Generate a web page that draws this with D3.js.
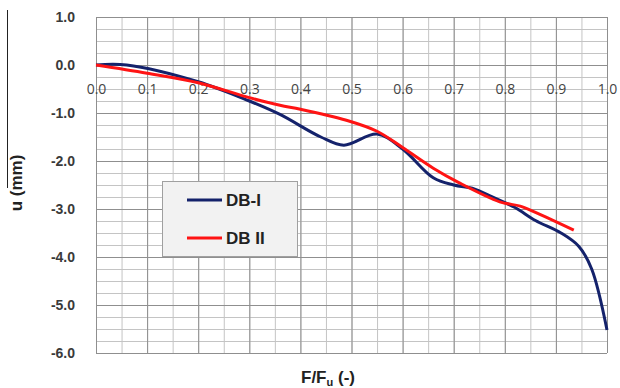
<!DOCTYPE html>
<html><head><meta charset="utf-8">
<script src="https://cdn.jsdelivr.net/npm/d3@7"></script>
<style>body{margin:0;background:#fff}svg{display:block}</style>
</head><body><svg id="c" width="620" height="388"></svg>
<script>
const xTicks = [0,0.1,0.2,0.3,0.4,0.5,0.6,0.7,0.8,0.9,1.0];
const yTicks = [1,0,-1,-2,-3,-4,-5,-6];
const seriesNames = ["DB-I","DB II"];
const dbI_x = [0,0.06,0.2,0.3,0.36,0.44,0.485,0.55,0.6,0.66,0.7,0.74,0.77,0.82,0.86,0.91,0.945,0.97,1.0];
const dbI_u = [0,0.0,-0.35,-0.75,-1.03,-1.5,-1.67,-1.44,-1.75,-2.35,-2.5,-2.58,-2.72,-2.97,-3.24,-3.5,-3.78,-4.25,-5.52];
const dbII_x = [0,0.1,0.2,0.3,0.36,0.4,0.49,0.55,0.6,0.66,0.71,0.79,0.83,0.86,0.935];
const dbII_u = [0,-0.17,-0.37,-0.68,-0.84,-0.92,-1.15,-1.38,-1.72,-2.15,-2.45,-2.85,-2.94,-3.07,-3.44];

const svg = d3.select("#c");
const L=96,R=607,T=17,B=353;
const x = d3.scaleLinear().domain([0,1]).range([L,R]);
const y = d3.scaleLinear().domain([-6,1]).range([B,T]);
const fmt = d => d.toFixed(1);

// minor grid
const g = svg.append("g");
g.append("g").attr("transform",`translate(0,${B})`)
 .call(d3.axisBottom(x).tickValues(d3.range(0,1.0001,0.05)).tickSize(-(B-T)).tickFormat(""))
 .call(a=>{a.select(".domain").remove();a.selectAll("line").attr("stroke","#c4c4c4");});
g.append("g").attr("transform",`translate(${L},0)`)
 .call(d3.axisLeft(y).tickValues(d3.range(-6,1.0001,0.25)).tickSize(-(R-L)).tickFormat(""))
 .call(a=>{a.select(".domain").remove();a.selectAll("line").attr("stroke","#c4c4c4");});
// major grid
g.append("g").attr("transform",`translate(0,${B})`)
 .call(d3.axisBottom(x).tickValues(xTicks).tickSize(-(B-T)).tickFormat(""))
 .call(a=>{a.select(".domain").remove();a.selectAll("line").attr("stroke","#8f8f8f");});
g.append("g").attr("transform",`translate(${L},0)`)
 .call(d3.axisLeft(y).tickValues(yTicks).tickSize(-(R-L)).tickFormat(""))
 .call(a=>{a.select(".domain").remove();a.selectAll("line").attr("stroke","#8f8f8f");});

// y tick labels
svg.append("g").attr("transform",`translate(${L},0)`)
 .call(d3.axisLeft(y).tickValues(yTicks).tickSize(0).tickPadding(21).tickFormat(fmt))
 .call(a=>{a.select(".domain").remove();a.selectAll("text").attr("font-family","Liberation Sans, Arial, sans-serif").attr("font-size",14).attr("font-weight","bold").attr("fill","#3a3a3a");});
// x tick labels at y=0
svg.append("g").attr("transform",`translate(0,${y(0)})`)
 .call(d3.axisBottom(x).tickValues(xTicks).tickSize(0).tickPadding(19).tickFormat(fmt))
 .call(a=>{a.select(".domain").remove();a.selectAll("text").attr("font-family","Open Sans, sans-serif").attr("font-size",14).attr("fill","#444");});

const line = d3.line().x(d=>x(d[0])).y(d=>y(d[1])).curve(d3.curveCatmullRom.alpha(0.5));
const dI = dbI_x.map((v,i)=>[v,dbI_u[i]]);
const dII = dbII_x.map((v,i)=>[v,dbII_u[i]]);
const colors = ["#14226b","#ff1414"];
svg.append("path").attr("d",line(dI)).attr("fill","none").attr("stroke",colors[0]).attr("stroke-width",3).attr("stroke-linejoin","round");
svg.append("path").attr("d",line(dII)).attr("fill","none").attr("stroke",colors[1]).attr("stroke-width",3).attr("stroke-linejoin","round");

// legend
const lg = svg.append("g");
lg.append("rect").attr("x",162.5).attr("y",181.5).attr("width",135).attr("height",75).attr("fill","#f2f2f2").attr("stroke","#a0a0a0");
seriesNames.forEach((n,i)=>{
  const yy = 200 + i*38;
  lg.append("line").attr("x1",187).attr("x2",222).attr("y1",yy).attr("y2",yy).attr("stroke",colors[i]).attr("stroke-width",3);
  lg.append("text").attr("x",226).attr("y",yy+6).text(n).attr("font-family","Liberation Sans, Arial, sans-serif").attr("font-size",17).attr("font-weight","bold").attr("fill","#222");
});

// axis titles
svg.append("line").attr("x1",7.5).attr("x2",7.5).attr("y1",10).attr("y2",188).attr("stroke","#222").attr("stroke-width",1);
svg.append("text").attr("transform","translate(22,183) rotate(-90)").attr("text-anchor","middle")
 .attr("font-family","Liberation Sans, Arial, sans-serif").attr("font-size",17).attr("font-weight","bold").attr("fill","#222").text("u (mm)");
const xt = svg.append("text").attr("x",328).attr("y",383).attr("text-anchor","middle")
 .attr("font-family","Liberation Sans, Arial, sans-serif").attr("font-size",17).attr("font-weight","bold").attr("fill","#222");
xt.append("tspan").text("F/F");
xt.append("tspan").text("u").attr("font-size",11).attr("dy",3);
xt.append("tspan").text(" (-)").attr("dy",-3);
</script></body></html>
